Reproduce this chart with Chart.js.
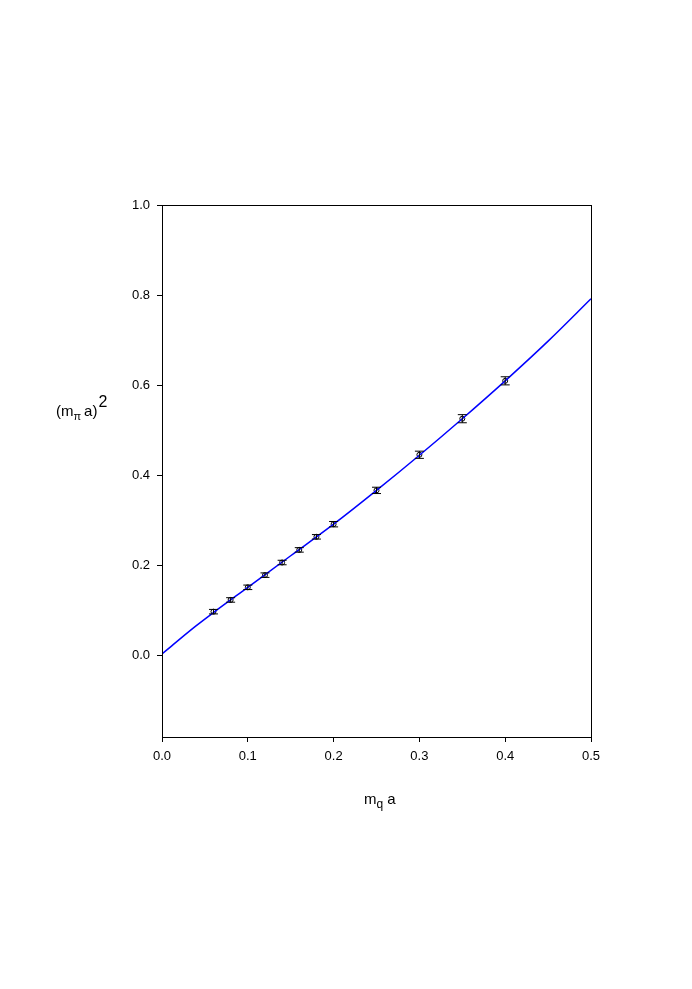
<!DOCTYPE html>
<html>
<head>
<meta charset="utf-8">
<script src="https://cdn.jsdelivr.net/npm/chart.js@4"></script>
<style>
  html, body { margin: 0; padding: 0; background: #fff; }
  #wrap { width: 692px; height: 989px; }
</style>
</head>
<body>
<div id="wrap"><canvas id="myChart"></canvas></div>
<script>
"use strict"

// measured points
let mqA = [0.06, 0.08, 0.10, 0.12, 0.14, 0.16, 0.18, 0.20, 0.25, 0.30, 0.35, 0.40];
let mpiSq = [0.098, 0.124, 0.152, 0.179, 0.207, 0.235, 0.264, 0.292, 0.367, 0.446, 0.526, 0.610];
let mpiErr = [0.005, 0.005, 0.005, 0.005, 0.005, 0.005, 0.005, 0.006, 0.007, 0.008, 0.009, 0.009];

// fit curve
let fitX = [0.0, 0.01, 0.02, 0.04, 0.06, 0.10, 0.15, 0.20, 0.25, 0.30, 0.35, 0.40, 0.45, 0.50];
let fitY = [0.004, 0.020, 0.036, 0.067, 0.096, 0.152, 0.222, 0.292, 0.367, 0.445, 0.526, 0.610, 0.698, 0.792];

let xTicks = [0.0, 0.1, 0.2, 0.3, 0.4, 0.5];
let yTicks = [0.0, 0.2, 0.4, 0.6, 0.8, 1.0];

const fontFam = '"Liberation Sans", Arial, sans-serif';

const errorBars = {
    id: 'errorBars',
    afterDatasetsDraw(chart) {
        let ctx = chart.ctx;
        let xs = chart.scales.x;
        let ys = chart.scales.y;
        ctx.save();
        ctx.strokeStyle = '#000';
        ctx.lineWidth = 1;
        for (let i = 0; i < mqA.length; i++) {
            let px = xs.getPixelForValue(mqA[i]);
            let top = ys.getPixelForValue(mpiSq[i] + mpiErr[i]);
            let bot = ys.getPixelForValue(mpiSq[i] - mpiErr[i]);
            ctx.beginPath();
            ctx.moveTo(px, top); ctx.lineTo(px, bot);
            ctx.moveTo(px - 4.5, top); ctx.lineTo(px + 4.5, top);
            ctx.moveTo(px - 4.5, bot); ctx.lineTo(px + 4.5, bot);
            ctx.stroke();
        }
        ctx.restore();
    }
};

const frameAndTitles = {
    id: 'frameAndTitles',
    afterDraw(chart) {
        let ctx = chart.ctx;
        let a = chart.chartArea;
        ctx.save();
        ctx.strokeStyle = '#000';
        ctx.lineWidth = 1;
        ctx.strokeRect(Math.round(a.left) + 0.5, Math.round(a.top) + 0.5,
            Math.round(a.right - a.left), Math.round(a.bottom - a.top));

        ctx.fillStyle = '#000';
        ctx.textBaseline = 'alphabetic';
        ctx.textAlign = 'left';

        // y title: (m_pi a)^2
        let x = 56, y = 416;
        ctx.font = '15px ' + fontFam;
        ctx.fillText('(m', x, y);
        x += ctx.measureText('(m').width;
        ctx.font = '11px ' + fontFam;
        ctx.fillText('\u03c0', x, y + 4);
        x += ctx.measureText('\u03c0').width + 3;
        ctx.font = '15px ' + fontFam;
        ctx.fillText('a)', x, y);
        x += ctx.measureText('a)').width;
        ctx.font = '16px ' + fontFam;
        ctx.fillText('2', x + 1, y - 9);

        // x title: m_q a
        x = 364; y = 804;
        ctx.font = '15px ' + fontFam;
        ctx.fillText('m', x, y);
        x += ctx.measureText('m').width;
        ctx.font = '12px ' + fontFam;
        ctx.fillText('q', x, y + 4);
        x += ctx.measureText('q').width + 4;
        ctx.font = '15px ' + fontFam;
        ctx.fillText('a', x, y);
        ctx.restore();
    }
};

const data = {
    datasets: [{
        label: 'fit',
        data: fitX.map((v, i) => ({ x: v, y: fitY[i] })),
        showLine: true,
        borderColor: 'rgb(0, 0, 255)',
        borderWidth: 1.5,
        pointRadius: 0,
        cubicInterpolationMode: 'monotone',
        fill: false
    },
    {
        label: 'data',
        data: mqA.map((v, i) => ({ x: v, y: mpiSq[i] })),
        showLine: false,
        pointStyle: 'circle',
        pointRadius: 2.5,
        borderColor: '#000',
        borderWidth: 1,
        backgroundColor: 'rgba(0,0,0,0)'
    }]
};

const config = {
    type: 'scatter',
    data: data,
    options: {
        responsive: true,
        maintainAspectRatio: false,
        animation: false,
        layout: {
            padding: { left: 0, top: 205, right: 101, bottom: 192 }
        },
        plugins: {
            legend: { display: false },
            tooltip: { enabled: false }
        },
        scales: {
            x: {
                type: 'linear',
                min: 0,
                max: 0.5,
                afterBuildTicks: (s) => { s.ticks = xTicks.map(v => ({ value: v })); },
                afterFit: (s) => { s.height = 60; },
                grid: { drawOnChartArea: false, drawTicks: true, tickLength: 5, color: '#000' },
                border: { display: false },
                ticks: {
                    color: '#000',
                    padding: 7,
                    maxRotation: 0,
                    font: { family: fontFam, size: 13 },
                    callback: (v) => v.toFixed(1)
                }
            },
            y: {
                type: 'linear',
                min: -0.18,
                max: 1.0,
                afterBuildTicks: (s) => { s.ticks = yTicks.map(v => ({ value: v })); },
                afterFit: (s) => { s.width = 162; },
                grid: { drawOnChartArea: false, drawTicks: true, tickLength: 5, color: '#000' },
                border: { display: false },
                ticks: {
                    color: '#000',
                    padding: 7,
                    font: { family: fontFam, size: 13 },
                    callback: (v) => v.toFixed(1)
                }
            }
        }
    },
    plugins: [errorBars, frameAndTitles]
};

let canvasChart = document.getElementById('myChart');
const myChart = new Chart(canvasChart, config);
</script>
</body>
</html>
